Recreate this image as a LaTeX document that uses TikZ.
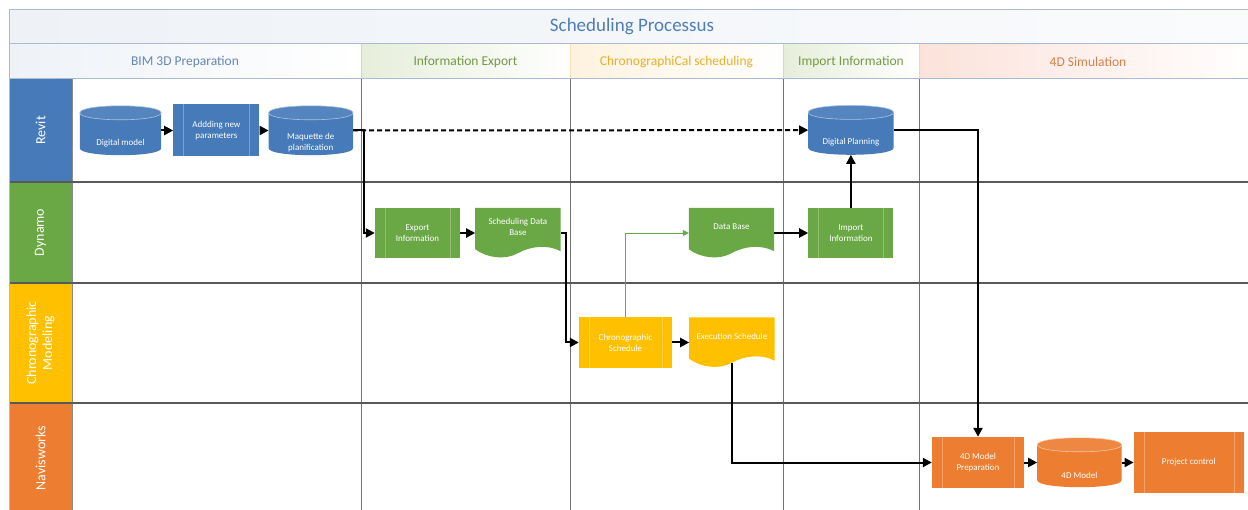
\documentclass[tikz,border=0pt]{standalone}
\usepackage{fontspec}
\setmainfont{Carlito}
\usetikzlibrary{positioning,arrows.meta}

\definecolor{revit}{RGB}{70,122,184}
\definecolor{dyn}{RGB}{106,168,70}
\definecolor{chrono}{RGB}{255,192,0}
\definecolor{navis}{RGB}{237,125,49}
\definecolor{titleblue}{RGB}{79,125,185}
\definecolor{hdrblue}{RGB}{100,135,180}
\definecolor{hdrgreen}{RGB}{118,152,72}
\definecolor{hdryellow}{RGB}{232,176,40}
\definecolor{hdrorange}{RGB}{218,128,72}
\definecolor{tintblue}{RGB}{238,242,247}
\definecolor{tintgreen}{RGB}{230,238,218}
\definecolor{tintyellow}{RGB}{253,242,222}
\definecolor{tintorange}{RGB}{252,226,218}
\definecolor{framecol}{RGB}{170,188,212}

\tikzset{
  lanetxt/.style={rotate=90, text=white, align=center, font=\fontsize{14}{16}\selectfont},
  phasetxt/.style={font=\fontsize{13.5}{16}\selectfont},
  boxtxt/.style={text=white, align=center, inner sep=0pt, font=\fontsize{9}{11}\selectfont},
  process/.style={fill=#1, boxtxt, minimum width=85pt, minimum height=50pt,
    path picture={\draw[white, opacity=0.28, line width=0.6pt]
      ([xshift=10pt]path picture bounding box.north west) -- ([xshift=10pt]path picture bounding box.south west)
      ([xshift=-10pt]path picture bounding box.north east) -- ([xshift=-10pt]path picture bounding box.south east);}},
  datadoc/.style={inner sep=0pt, minimum width=85pt, minimum height=50pt},
  database/.style={inner sep=0pt, minimum width=84pt, minimum height=49pt},
  flow/.style={line width=2pt, -{Triangle[length=9pt,width=9pt]}},
  dataflow/.style={flow, dash pattern=on 5pt off 3pt},
  weakflow/.style={draw=dyn, line width=0.8pt, -{Triangle[length=6pt,width=6pt]}},
}

\begin{document}
\begin{tikzpicture}[x=1pt,y=-1pt]
\useasboundingbox (0,0) rectangle (1248,510);
\clip (0,0) rectangle (1248,510);
\fill[white] (0,0) rectangle (1248,510);

% title and phases
\shade[left color=tintblue, right color=tintblue!30!white] (9,10) rectangle (1257,44);
\node[font=\fontsize{19}{22}\selectfont, text=titleblue] (title) at (632,27) {Scheduling Processus};
\foreach \x/\xx/\tint/\col/\txt/\nm in {9/361/tintblue/hdrblue/BIM 3D Preparation/pbim,
    361/570/tintgreen/hdrgreen/Information Export/pexp,
    570/783/tintyellow/hdryellow/ChronographiCal scheduling/pchrono,
    783/919/tintgreen/hdrgreen/Import Information/pimp,
    919/1257/tintorange/hdrorange/4D Simulation/psim} {
  \shade[left color=\tint, right color=white] (\x,44) rectangle (\xx,79);
  \draw[\col!35!white, line width=0.8pt] (\x,44) -- (\x,79);
  \node[phasetxt, text=\col] (\nm) at ({(\x+\xx)/2},61.5) {\txt};
}

% lanes
\foreach \yt/\yb/\col/\txt/\nm in {79/182/revit/Revit/lrevit,
    182/283/dyn/Dynamo/ldyn,
    283/403/chrono/{Chronographic\\Modeling}/lchrono,
    403/513/navis/Navisworks/lnavis} {
  \fill[\col] (9,\yt) rectangle (72,\yb);
  \node[lanetxt] (\nm) at (40.5,{(\yt+\yb)/2}) {\txt};
}
\foreach \x in {361,570,783,919}
  \draw[black!55, line width=0.8pt] (\x,79) -- (\x,513);
\draw[black!45, line width=0.8pt] (72,79) -- (72,513);
\foreach \y in {182,283,403}
  \draw[black!65, line width=1.4pt] (9,\y) -- (1257,\y);
\draw[framecol, line width=1pt] (9,10) rectangle (1257,513) (9,44) -- (1257,44) (9,79) -- (1257,79);

% shapes
\node[database, minimum width=81pt] (dm) at (120.5,130.5) {};
\node[process=revit, minimum width=86pt, minimum height=52pt, right=12pt of dm] (anp) {Addding new\\parameters};
\node[database, right=9pt of anp] (mdp) {};
\node[process=dyn] (exp) at (417.5,233) {Export\\Information};
\node[datadoc, right=15pt of exp] (sdb) {};
\node[datadoc] (db) at (731.5,233) {};
\node[process=dyn, right=34pt of db] (imp) {Import\\Information};
\node[database, minimum width=85pt, above=53pt of imp] (dp) {};
\node[process=chrono, minimum width=93pt, minimum height=51pt] (cs) at (625.5,342.5) {Chronographic\\Schedule};
\node[datadoc, right=17pt of cs] (exs) {};
\node[process=navis, minimum width=92pt, minimum height=51pt] (mp) at (978,462.5) {4D Model\\Preparation};
\node[database, right=13pt of mp] (fdm) {};
\node[process=navis, minimum width=110pt, minimum height=61pt, right=12pt of fdm] (pc) {Project control};

% cylinders
\foreach \n/\c in {dm/revit, mdp/revit, dp/revit, fdm/navis} {
  \fill[\c] ([yshift=-7pt]\n.north west) -- ([yshift=7pt]\n.south west)
    .. controls ([yshift=-2.33pt]\n.south west) and ([yshift=-2.33pt]\n.south east) .. ([yshift=7pt]\n.south east)
    -- ([yshift=-7pt]\n.north east) -- cycle;
  \filldraw[fill=\c!92!white, draw=white!55!\c, line width=0.6pt] ([yshift=-7pt]\n.north west)
    .. controls ([yshift=2.33pt]\n.north west) and ([yshift=2.33pt]\n.north east) .. ([yshift=-7pt]\n.north east)
    .. controls ([yshift=-16.33pt]\n.north east) and ([yshift=-16.33pt]\n.north west) .. ([yshift=-7pt]\n.north west) -- cycle;
}
\foreach \n/\t in {dm/{Digital model}, mdp/{Maquette de\\planification}, dp/{Digital Planning}, fdm/{4D Model}}
  \node[boxtxt] (\n-t) at ([yshift=-12.5pt]\n.center) {\t};

% documents
\foreach \n/\c in {sdb/dyn, db/dyn, exs/chrono} {
  \fill[\c] (\n.north west) -- (\n.north east) -- ([yshift=7pt]\n.south east)
    .. controls ([xshift=-13pt,yshift=14pt]\n.south east) and ([xshift=12.5pt,yshift=12pt]\n.south) .. ([yshift=5pt]\n.south)
    .. controls ([xshift=-12.5pt,yshift=-2pt]\n.south) and ([xshift=12pt]\n.south west) .. ([yshift=9pt]\n.south west) -- cycle;
}
\foreach \n/\t in {sdb/{Scheduling Data\\Base}, db/{Data Base}, exs/{Execution Schedule}}
  \node[boxtxt] (\n-t) at ([yshift=6pt]\n.center) {\t};

% flows
\draw[flow] (dm.east) -- (anp.west);
\draw[flow] (anp.east) -- (mdp.west);
\draw[flow] (mdp.east) -- ++(11,0) |- (exp.west);
\draw[dataflow] (mdp.east) -- (dp.west);
\draw[flow] (exp.east) -- (sdb.west);
\draw[flow] (sdb.east) -- ++(5,0) |- (cs.west);
\draw[weakflow] (cs.north) |- (db.west);
\draw[flow] (db.east) -- (imp.west);
\draw[flow] (imp.north) -- (dp.south);
\draw[flow] (dp.east) -| (mp.north);
\draw[flow] (cs.east) -- (exs.west);
\draw[flow] ([yshift=5pt]exs.south) |- (mp.west);
\draw[flow] (mp.east) -- (fdm.west);
\draw[flow] (fdm.east) -- (pc.west);
\end{tikzpicture}
\end{document}
